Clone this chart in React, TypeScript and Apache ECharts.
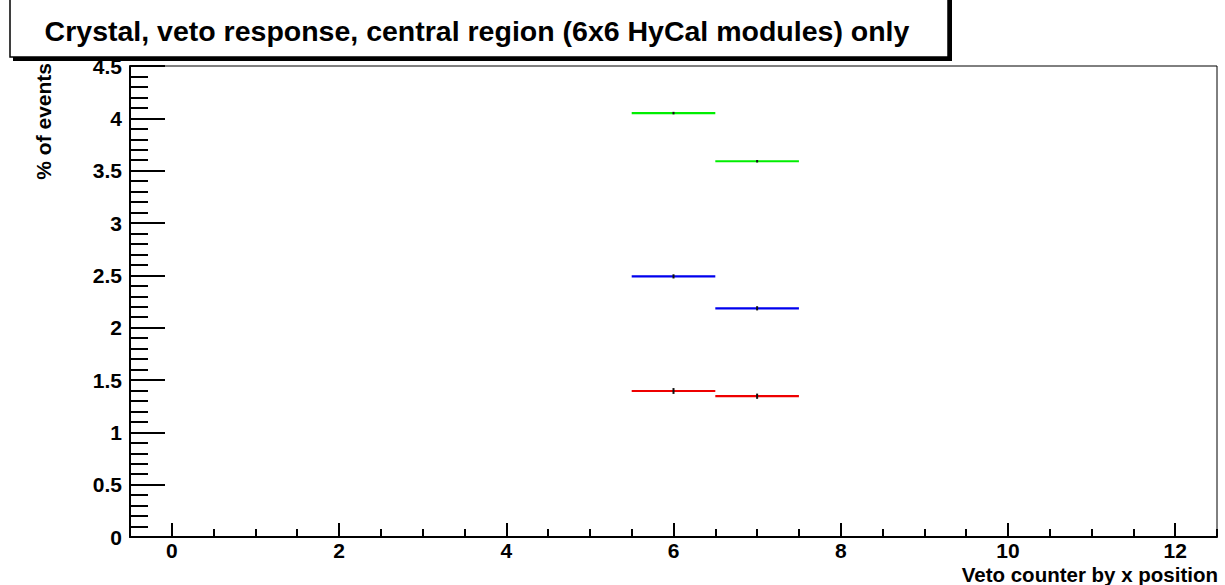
import React, { useEffect, useRef } from "react";
import * as echarts from "echarts";

const TITLE = "Crystal, veto response, central region (6x6 HyCal modules) only";
const X_NAME = "Veto counter by x position";
const Y_NAME = "% of events";

const binCenters = [6, 7];
const greenValues = [4.05, 3.59];
const blueValues = [2.49, 2.185];
const redValues = [1.395, 1.345];
const greenErrors = [0.012, 0.012];
const blueErrors = [0.02, 0.02];
const redErrors = [0.028, 0.025];

const xMajorTicks = [0, 2, 4, 6, 8, 10, 12];
const xMinorTicks = [-0.5, 0, 0.5, 1, 1.5, 2, 2.5, 3, 3.5, 4, 4.5, 5, 5.5, 6, 6.5, 7, 7.5, 8, 8.5, 9, 9.5, 10, 10.5, 11, 11.5, 12, 12.5];
const yMajorTicks = [0, 0.5, 1, 1.5, 2, 2.5, 3, 3.5, 4, 4.5];
const yMinorTicks = Array.from({ length: 46 }, (_, i) => i / 10);

const FONT = "Liberation Sans";

function makeSeries(name: string, color: string, values: number[], errors: number[]) {
  return {
    name,
    type: "custom",
    xAxisIndex: 0,
    yAxisIndex: 0,
    data: binCenters.map((c, i) => [c, values[i], errors[i]]),
    renderItem: (params: any, api: any) => {
      const x = api.value(0);
      const y = api.value(1);
      const e = api.value(2);
      const p1 = api.coord([x - 0.5, y]);
      const p2 = api.coord([x + 0.5, y]);
      const e1 = api.coord([x, y - e]);
      const e2 = api.coord([x, y + e]);
      return {
        type: "group",
        children: [
          {
            type: "line",
            shape: { x1: p1[0], y1: p1[1], x2: p2[0], y2: p2[1] },
            style: { stroke: color, lineWidth: 2.2 },
          },
          {
            type: "line",
            z2: 10,
            shape: { x1: e1[0], y1: e1[1], x2: e2[0], y2: e2[1] },
            style: { stroke: "#111", lineWidth: 2 },
          },
        ],
      };
    },
  };
}

export default function App() {
  const ref = useRef<HTMLDivElement>(null);
  useEffect(() => {
    if (!ref.current) return;
    const chart = echarts.init(ref.current, null, { renderer: "svg" });
    const tickLabelStyle = {
      color: "#000",
      fontWeight: "bold",
      fontSize: 21,
      fontFamily: FONT,
    };
    chart.setOption({
      animation: false,
      backgroundColor: "#fff",
      grid: {
        left: 130,
        top: 66,
        right: 8,
        bottom: 48,
        show: true,
        borderColor: "#000",
        borderWidth: 1,
        backgroundColor: "transparent",
      },
      xAxis: [
        {
          type: "value",
          min: -0.5,
          max: 12.5,
          axisLine: { show: true, onZero: false, lineStyle: { color: "#000", width: 2 } },
          splitLine: { show: false },
          axisTick: {
            show: true,
            inside: true,
            length: 14,
            customValues: xMajorTicks,
            lineStyle: { color: "#000", width: 2 },
          },
          axisLabel: {
            show: true,
            customValues: xMajorTicks,
            margin: 3,
            formatter: (v: number) => "{a|" + v + "}",
            rich: { a: { ...tickLabelStyle, lineHeight: 21 } },
            ...tickLabelStyle,
          },
        },
        {
          type: "value",
          min: -0.5,
          max: 12.5,
          position: "bottom",
          axisLine: { show: false, onZero: false },
          splitLine: { show: false },
          axisTick: {
            show: true,
            inside: true,
            length: 8,
            customValues: xMinorTicks,
            lineStyle: { color: "#000", width: 2 },
          },
          axisLabel: { show: false },
        },
      ],
      yAxis: [
        {
          type: "value",
          min: 0,
          max: 4.5,
          axisLine: { show: true, onZero: false, lineStyle: { color: "#000", width: 2 } },
          splitLine: { show: false },
          axisTick: {
            show: true,
            inside: true,
            length: 35,
            customValues: yMajorTicks,
            lineStyle: { color: "#000", width: 2 },
          },
          axisLabel: {
            show: true,
            customValues: yMajorTicks,
            margin: 8,
            formatter: (v: number) => "{a|" + v + "}",
            rich: { a: { ...tickLabelStyle } },
            ...tickLabelStyle,
          },
        },
        {
          type: "value",
          min: 0,
          max: 4.5,
          position: "left",
          axisLine: { show: false, onZero: false },
          splitLine: { show: false },
          axisTick: {
            show: true,
            inside: true,
            length: 18,
            customValues: yMinorTicks,
            lineStyle: { color: "#000", width: 2 },
          },
          axisLabel: { show: false },
        },
      ],
      series: [
        makeSeries("green", "#00ee00", greenValues, greenErrors),
        makeSeries("blue", "#0000ee", blueValues, blueErrors),
        makeSeries("red", "#ee0000", redValues, redErrors),
      ],
      graphic: [
        {
          type: "rect",
          z: 100,
          shape: { x: 13, y: -5, width: 939, height: 66 },
          style: { fill: "#000" },
        },
        {
          type: "rect",
          z: 101,
          shape: { x: 10, y: -8, width: 938, height: 65 },
          style: { fill: "#fff", stroke: "#000", lineWidth: 1.5 },
        },
        {
          type: "text",
          z: 102,
          x: 477,
          y: 31,
          style: {
            text: TITLE,
            fill: "#000",
            fontFamily: FONT,
            fontWeight: "bold",
            fontSize: 28.5,
            align: "center",
            verticalAlign: "middle",
          },
        },
        {
          type: "text",
          z: 50,
          x: 43,
          y: 63,
          rotation: Math.PI / 2,
          style: {
            text: Y_NAME,
            fill: "#000",
            fontFamily: FONT,
            fontWeight: "bold",
            fontSize: 21,
            align: "right",
            verticalAlign: "middle",
          },
        },
        {
          type: "text",
          z: 50,
          x: 1218,
          y: 574,
          style: {
            text: X_NAME,
            fill: "#000",
            fontFamily: FONT,
            fontWeight: "bold",
            fontSize: 20.5,
            align: "right",
            verticalAlign: "middle",
          },
        },
      ],
    });
    return () => chart.dispose();
  }, []);
  return (
    <div
      ref={ref}
      style={{ position: "fixed", left: 0, top: 0, width: 1225, height: 585, background: "#fff" }}
    />
  );
}
